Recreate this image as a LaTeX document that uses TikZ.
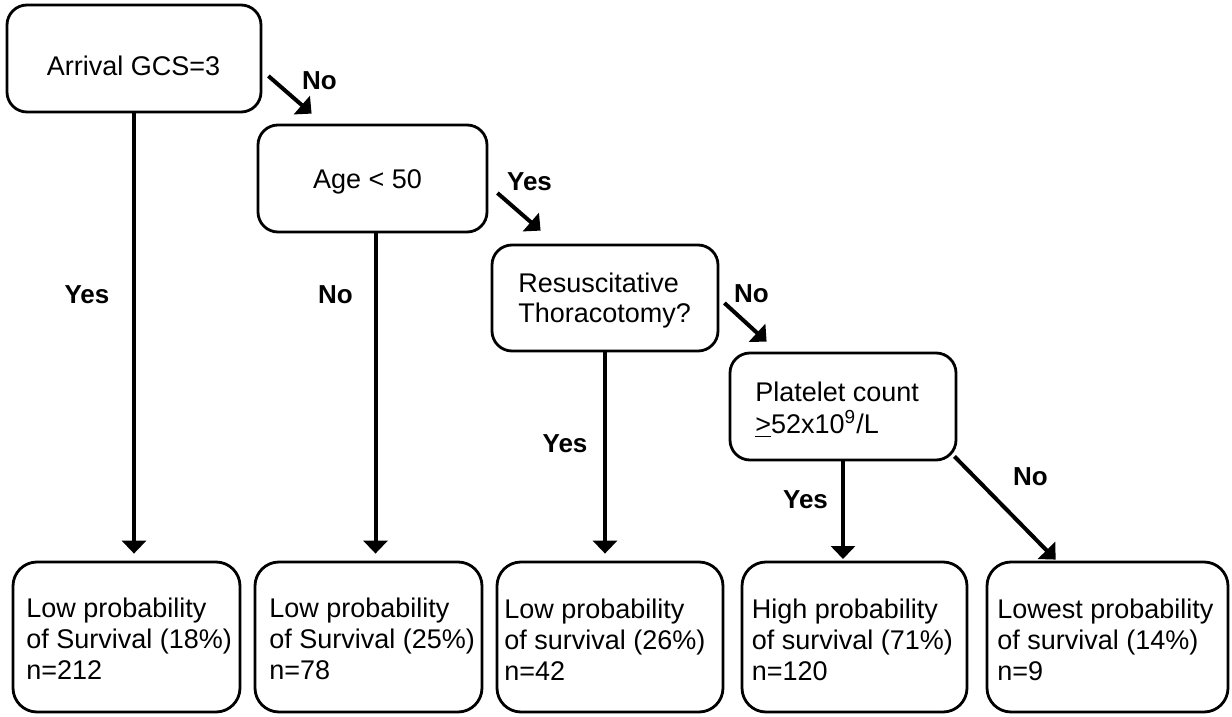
\documentclass[tikz,border=0pt]{standalone}
\usepackage{fontspec}
\setmainfont{Liberation Sans}
\usetikzlibrary{arrows.meta}
\begin{document}
\begin{tikzpicture}[x=0.5pt,y=-0.5pt,
  box/.style={draw, line width=1.4pt, rounded corners=10pt, inner sep=0pt},
  leaf/.style={box, rounded corners=12pt, minimum height=75pt},
  txt/.style={font=\fontsize{13.5pt}{15.5pt}\selectfont, inner sep=0pt, align=left},
  lbl/.style={font=\fontsize{13pt}{15pt}\selectfont\bfseries, inner sep=0pt},
  conn/.style={line width=2pt, -{Triangle[length=6.5pt,width=12pt]}}
]
\useasboundingbox (0,0) rectangle (1232,717);

% decision boxes
\node[box, minimum width=127pt, minimum height=53.5pt] (b1) at (134,58.5) {};
\node[box, minimum width=114.5pt, minimum height=53.5pt] (b2) at (372.5,178.5) {};
\node[box, minimum width=113pt, minimum height=53pt] (b3) at (605,298) {};
\node[box, minimum width=113pt, minimum height=53.5pt] (b4) at (843,406.5) {};

% leaf boxes
\node[leaf, minimum width=113.5pt] (lA) at (126.5,637) {};
\node[leaf, minimum width=113.5pt] (lB) at (368.5,637) {};
\node[leaf, minimum width=113pt] (lC) at (610,637) {};
\node[leaf, minimum width=112.5pt] (lD) at (854.5,637) {};
\node[leaf, minimum width=120.5pt] (lE) at (1107.5,637) {};

% texts of decision boxes (base = baseline of the last line)
\node[txt, anchor=base] (t1) at (133.5,76) {Arrival GCS=3};
\node[txt, anchor=base] (t2) at (367.5,189) {Age < 50};
\node[txt, anchor=base west, font=\fontsize{13.5pt}{15pt}\selectfont] (t3) at (518,322) {Resuscitative\\Thoracotomy?};
\node[txt, anchor=base west, font=\fontsize{13.5pt}{16pt}\selectfont] (t4) at (755,433.5) {Platelet count\\\underline{>}52x10\textsuperscript{9}/L};

% texts of leaf boxes
\node[txt, anchor=base west] (tA) at (26,679.5) {Low probability\\of Survival (18\%)\\n=212};
\node[txt, anchor=base west] (tB) at (269,679.5) {Low probability\\of Survival (25\%)\\n=78};
\node[txt, anchor=base west] (tC) at (504,680) {Low probability\\of survival (26\%)\\n=42};
\node[txt, anchor=base west] (tD) at (751.5,680) {High probability\\of survival (71\%)\\n=120};
\node[txt, anchor=base west] (tE) at (997,680) {Lowest probability\\of survival (14\%)\\n=9};

% connectors
\draw[conn] ([shift={(6,17.5)}]b1.east) -- ([shift={(55,-10)}]b2.north west);
\draw[conn, shorten >=3.5pt] (b1.south) -- (b1.south |- lA.north);
\draw[conn] ([shift={(9,14.5)}]b2.east) -- ([shift={(50,-13)}]b3.north west);
\draw[conn, shorten >=3.5pt] ([xshift=1.5]b2.south) -- ([xshift=1.5]b2.south |- lB.north);
\draw[conn] ([shift={(5,5)}]b3.east) -- ([shift={(38,-10)}]b4.north west);
\draw[conn, shorten >=3.5pt] (b3.south) -- (b3.south |- lC.north);
\draw[conn, shorten >=0.8pt] (b4.south) -- (b4.south |- lD.north);
\draw[conn] ([shift={(-3,-5)}]b4.south east) -- ([shift={(70,-1)}]lE.north west);

% branch labels
\node[lbl] (n1) at (319.5,80.5) {No};
\node[lbl] (y1) at (87,295) {Yes};
\node[lbl] (n2) at (335.5,295) {No};
\node[lbl] (y2) at (529.5,181.5) {Yes};
\node[lbl] (y3) at (565,444) {Yes};
\node[lbl] (n3) at (751.5,293.5) {No};
\node[lbl] (y4) at (805.5,500) {Yes};
\node[lbl] (n4) at (1030.5,477) {No};
\end{tikzpicture}
\end{document}
